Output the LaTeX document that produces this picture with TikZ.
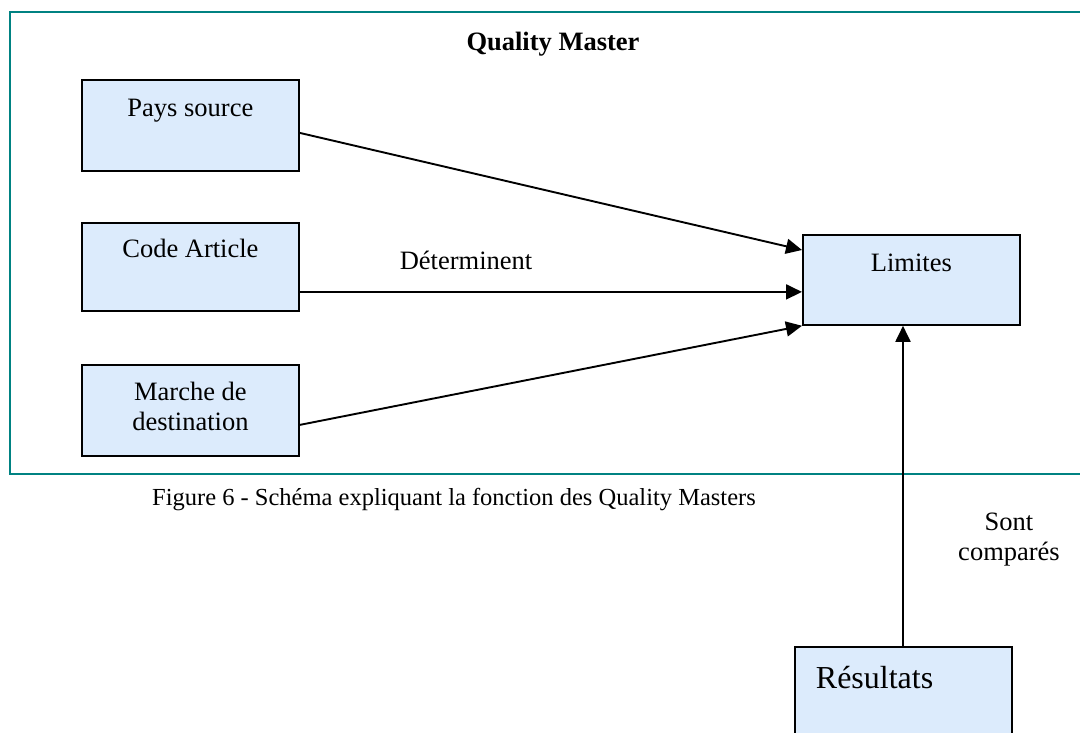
\documentclass[tikz,border=0pt]{standalone}
\usepackage{fontspec}
\setmainfont{Liberation Serif}
\usetikzlibrary{arrows.meta}
\definecolor{boxfill}{RGB}{220,235,252}
\definecolor{frameteal}{RGB}{0,130,130}
\newcommand\bxt[3]{\parbox[c][#1][t]{217pt}{\centering\rule{0pt}{#2}#3}}
\begin{document}
\begin{tikzpicture}[x=1pt,y=-1pt,
  box/.style={draw=black, fill=boxfill, line width=1.8pt, inner sep=0pt, anchor=north west,
    font=\fontsize{26.5}{30}\selectfont},
  lbl/.style={font=\fontsize{26.5}{30}\selectfont, inner sep=0pt, align=center},
  conn/.style={line width=1.9pt, -{Triangle[length=16pt,width=15pt]}}]
\clip (0,0) rectangle (1080,733);
\fill[white] (0,0) rectangle (1080,733);
\draw[frameteal, line width=2.6pt] (10,12) rectangle (1100,474);
\node[font=\bfseries\fontsize{26.5}{30}\selectfont, inner sep=0pt] (title) at (553,44) {Quality Master};
\node[box] (pays) at (81,79) {\bxt{91pt}{37pt}{Pays source}};
\node[box] (code) at (81,222) {\bxt{88pt}{35pt}{Code Article}};
\node[box] (marche) at (81,364) {\bxt{91pt}{36pt}{Marche de\\destination}};
\node[box] (lim) at (802,234) {\bxt{90pt}{37pt}{Limites}};
\node[box, font=\fontsize{32}{36}\selectfont] (res) at (794,646)
  {\parbox[c][110pt][t]{217pt}{\rule{0pt}{42pt}\hspace*{21pt}Résultats}};
\node[lbl] (det) at (466,260) {Déterminent};
\node[lbl] (sont) at (1009,540) {Sont\\comparés};
\node[font=\fontsize{24.5}{28}\selectfont, inner sep=0pt] (cap) at (454,500)
  {Figure 6 - Schéma expliquant la fonction des Quality Masters};
\draw[conn] ([yshift=-7.5pt]pays.east) -- ([yshift=-16pt]lim.north west);
\draw[conn] ([yshift=-25pt]code.east) -- ([yshift=-25pt]code.east -| lim.west);
\draw[conn] ([yshift=-14.5pt]marche.east) -- (lim.south west);
\draw[conn] (res.north -| 903,0) -- (lim.south -| 903,0);
\end{tikzpicture}
\end{document}
